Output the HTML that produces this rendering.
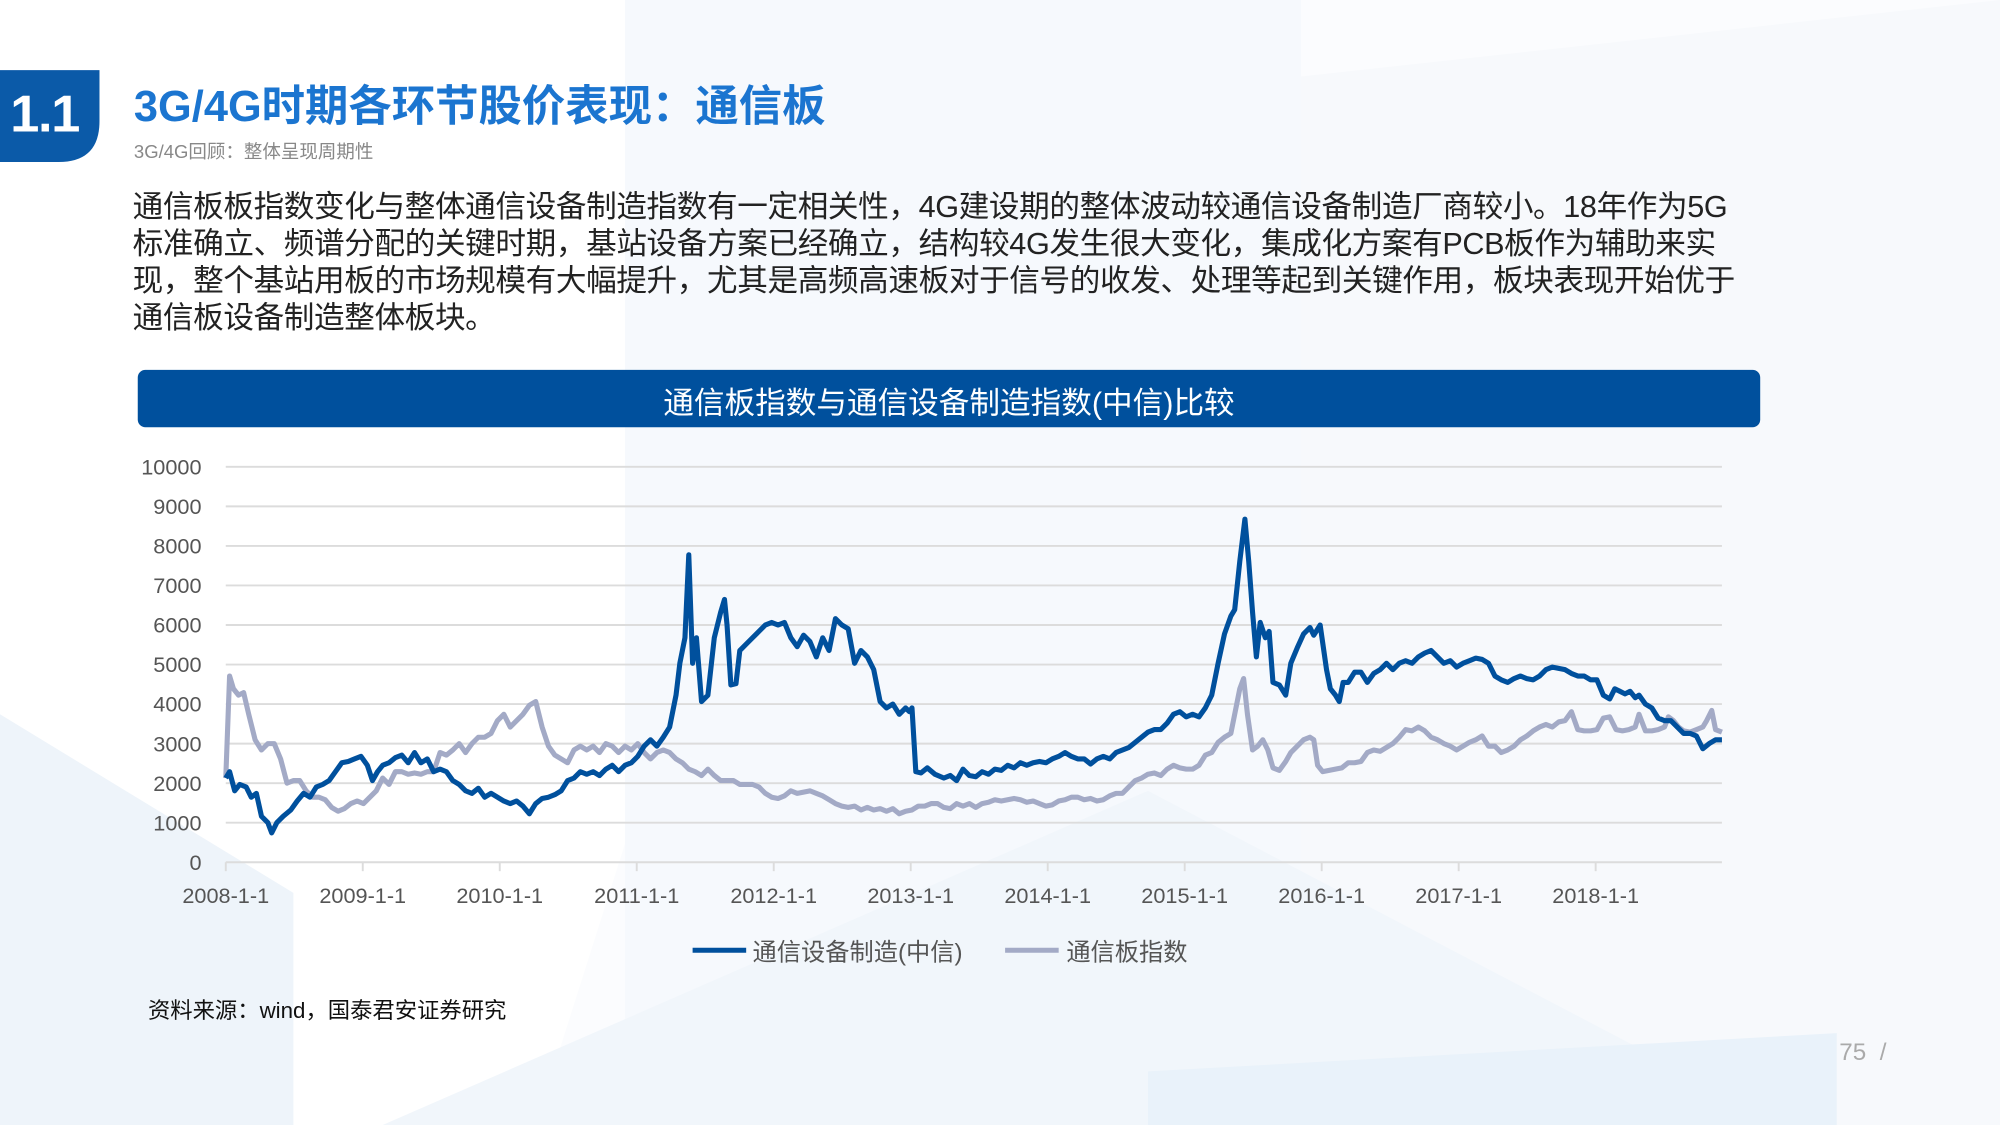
<!DOCTYPE html>
<html><head><meta charset="utf-8"><style>
html,body{margin:0;padding:0;background:#fff;overflow:hidden}
#wrap{width:2000px;height:1125px;position:relative;overflow:hidden;background:#fbfcfe}
#s{position:absolute;left:0;top:0;width:1568px;height:882px;transform:scale(1.27551);transform-origin:0 0;font-family:"Liberation Sans","Noto Sans CJK SC",sans-serif}
.t{position:absolute;white-space:nowrap}
</style></head><body><div id="wrap"><div id="s">
<svg width="1568" height="882" style="position:absolute;left:0;top:0">
<rect width="1568" height="882" fill="#fbfcfe"/>
<polygon points="0,0 700,0 420,882 0,882" fill="#ffffff"/>
<polygon points="490,0 1020,0 1020,882 490,882" fill="#f6f9fd"/>
<polygon points="1020,60 1568,0 1568,882 1020,882" fill="#f7f9fc"/>
<polygon points="0,560 230,700 230,882 0,882" fill="#eef4fa"/>
<polygon points="300,882 900,620 1400,882" fill="#f1f6fb"/>
<polygon points="900,840 1440,810 1440,882 900,882" fill="#e9f2fa"/>
<path d="M0,55 H78 V95 Q78,127 46,127 H0 Z" fill="#0b5aa8"/>
<rect x="108" y="290" width="1272" height="45" rx="6" fill="#00509d"/>
<g stroke="#dcdcdc" stroke-width="1.5">
<line x1="177" x2="1350" y1="366" y2="366"/><line x1="177" x2="1350" y1="397" y2="397"/><line x1="177" x2="1350" y1="428" y2="428"/><line x1="177" x2="1350" y1="459" y2="459"/><line x1="177" x2="1350" y1="490" y2="490"/><line x1="177" x2="1350" y1="521" y2="521"/><line x1="177" x2="1350" y1="552" y2="552"/><line x1="177" x2="1350" y1="583" y2="583"/><line x1="177" x2="1350" y1="614" y2="614"/><line x1="177" x2="1350" y1="645" y2="645"/><line x1="177" x2="1350" y1="676" y2="676"/>
<line x1="177" x2="177" y1="676" y2="683"/><line x1="284.4" x2="284.4" y1="676" y2="683"/><line x1="391.8" x2="391.8" y1="676" y2="683"/><line x1="499.2" x2="499.2" y1="676" y2="683"/><line x1="606.6" x2="606.6" y1="676" y2="683"/><line x1="714" x2="714" y1="676" y2="683"/><line x1="821.4" x2="821.4" y1="676" y2="683"/><line x1="928.8" x2="928.8" y1="676" y2="683"/><line x1="1036.2" x2="1036.2" y1="676" y2="683"/><line x1="1143.6" x2="1143.6" y1="676" y2="683"/><line x1="1251" x2="1251" y1="676" y2="683"/>
</g>
<g font-size="17" fill="#555" text-anchor="end" font-family="Liberation Sans,sans-serif">
<text x="158" y="372">10000</text><text x="158" y="403">9000</text><text x="158" y="434">8000</text><text x="158" y="465">7000</text><text x="158" y="496">6000</text><text x="158" y="527">5000</text><text x="158" y="558">4000</text><text x="158" y="589">3000</text><text x="158" y="620">2000</text><text x="158" y="651">1000</text><text x="158" y="682">0</text>
</g>
<g font-size="17" fill="#555" text-anchor="middle" font-family="Liberation Sans,sans-serif">
<text x="177" y="708">2008-1-1</text><text x="284.4" y="708">2009-1-1</text><text x="391.8" y="708">2010-1-1</text><text x="499.2" y="708">2011-1-1</text><text x="606.6" y="708">2012-1-1</text><text x="714" y="708">2013-1-1</text><text x="821.4" y="708">2014-1-1</text><text x="928.8" y="708">2015-1-1</text><text x="1036.2" y="708">2016-1-1</text><text x="1143.6" y="708">2017-1-1</text><text x="1251" y="708">2018-1-1</text>
</g>
<polyline fill="none" stroke="#a3aac6" stroke-width="4" stroke-linejoin="round" points="177,610 180,530 183,540 187,545 191,543 195,560 200,580 205,588 210,583 215,583 220,595 225,614 230,612 235,612 240,620 245,625 250,625 255,627 260,633 265,636 270,634 275,630 280,628 285,630 290,625 295,620 300,610 305,615 310,605 315,605 320,607 325,606 330,607 335,605 340,605 345,590 350,592 355,588 360,583 365,590 370,583 375,578 380,578 385,575 390,565 395,560 400,570 405,565 410,560 415,553 420,550 425,570 430,585 435,592 440,595 445,598 450,588 455,585 460,588 465,585 470,590 475,583 480,585 485,590 490,585 495,588 500,583 505,590 510,595 515,590 520,588 525,590 530,595 535,598 540,603 545,605 550,608 555,603 560,608 565,612 570,612 575,612 580,615 585,615 590,615 595,617 600,622 605,625 610,626 615,624 620,620 625,622 630,621 635,620 640,622 645,624 650,627 655,630 660,632 665,633 670,632 675,635 680,633 685,635 690,634 695,636 700,634 705,638 710,636 715,635 720,632 725,632 730,630 735,630 740,633 745,634 750,630 755,632 760,630 765,633 770,630 775,629 780,627 785,628 790,627 795,626 800,627 805,629 810,628 815,630 820,632 825,631 830,628 835,627 840,625 845,625 850,627 855,626 860,628 865,627 870,624 875,622 880,622 885,617 890,612 895,610 900,607 905,606 910,608 915,603 920,600 925,602 930,603 935,603 940,600 945,592 950,590 955,582 960,578 965,575 968,560 972,540 975,532 978,560 982,588 986,585 990,580 994,588 998,602 1003,604 1008,597 1012,590 1017,585 1022,580 1027,578 1030,580 1033,600 1037,605 1042,604 1047,603 1052,602 1057,598 1062,598 1067,597 1072,590 1077,588 1082,589 1087,586 1092,583 1097,578 1102,572 1107,573 1112,570 1117,573 1122,578 1127,580 1132,583 1137,585 1142,588 1147,585 1152,582 1157,580 1162,577 1167,585 1172,585 1177,590 1182,588 1187,585 1192,580 1197,577 1202,573 1207,570 1212,568 1217,570 1222,566 1227,565 1232,558 1237,572 1242,573 1247,573 1252,572 1257,563 1262,562 1267,572 1272,573 1277,572 1282,570 1285,560 1290,573 1295,573 1300,572 1305,570 1308,562 1312,565 1316,570 1320,573 1325,574 1330,572 1335,570 1338,565 1342,557 1345,572 1350,574"/>
<polyline fill="none" stroke="#00509d" stroke-width="4" stroke-linejoin="round" points="177,610 180,605 184,620 188,615 193,617 197,625 201,622 205,640 210,645 213,653 217,645 222,640 228,635 233,628 238,622 243,625 248,617 253,615 258,612 263,605 268,598 273,597 278,595 283,593 288,600 292,612 296,605 300,600 305,598 310,594 315,592 320,598 325,590 330,598 335,595 340,605 345,603 350,605 355,612 360,615 365,620 370,622 375,618 380,625 385,622 390,625 395,628 400,630 405,628 410,632 415,638 420,630 425,626 430,625 435,623 440,620 445,612 450,610 455,605 460,607 465,605 470,608 475,603 480,600 485,605 490,600 495,598 500,593 505,585 510,580 515,585 520,578 525,570 530,545 533,520 537,500 540,435 543,520 546,500 550,550 555,545 560,500 565,480 568,470 570,490 573,537 577,536 580,510 585,505 590,500 595,495 600,490 605,488 610,490 615,488 620,500 625,507 630,498 635,503 640,515 645,500 650,510 655,485 660,490 665,493 670,520 675,510 680,515 685,525 690,550 695,555 700,552 705,560 710,555 713,558 715,555 718,605 722,606 727,602 733,607 740,610 745,608 750,612 755,603 760,608 765,609 770,605 775,607 780,603 785,604 790,600 795,602 800,598 805,600 810,598 815,597 820,598 825,595 830,593 835,590 840,593 845,595 850,595 855,599 860,595 865,593 870,595 875,590 880,588 885,586 890,582 895,578 900,574 905,572 910,572 915,567 920,560 925,558 930,562 935,560 940,562 945,555 950,545 955,520 960,497 965,483 968,478 972,440 976,407 979,440 982,480 985,515 988,488 992,500 995,495 998,535 1003,537 1008,545 1012,520 1017,508 1022,497 1027,492 1030,498 1035,490 1040,525 1043,540 1047,545 1050,550 1053,535 1057,535 1062,527 1067,527 1072,535 1077,528 1082,525 1087,520 1092,525 1097,520 1102,518 1107,520 1112,515 1117,512 1122,510 1127,515 1132,520 1137,518 1142,523 1147,520 1152,518 1157,516 1162,517 1167,520 1172,530 1177,533 1182,535 1187,532 1192,530 1197,532 1202,533 1207,530 1212,525 1217,523 1222,524 1227,525 1232,528 1237,530 1242,530 1247,533 1252,533 1257,545 1262,548 1266,540 1270,542 1274,544 1278,542 1282,547 1285,545 1290,552 1295,555 1300,563 1305,565 1310,565 1315,570 1320,575 1325,575 1330,577 1335,587 1340,583 1345,580 1350,580"/>
<line x1="543" x2="585" y1="745" y2="745" stroke="#00509d" stroke-width="4"/>
<line x1="788" x2="830" y1="745" y2="745" stroke="#a3aac6" stroke-width="4"/>
</svg>
<div class="t" style="left:8px;top:66px;font-size:41px;font-weight:bold;color:#fff;letter-spacing:-1px">1.1</div>
<div class="t" style="left:105px;top:56px;font-size:34px;font-weight:bold;color:#1b75d0">3G/4G时期各环节股价表现：通信板</div>
<div class="t" style="left:105px;top:108px;font-size:14.5px;color:#888">3G/4G回顾：整体呈现周期性</div>
<div class="t" style="left:104px;top:148px;font-size:24px;line-height:29px;color:#222;letter-spacing:-0.3px">通信板板指数变化与整体通信设备制造指数有一定相关性，4G建设期的整体波动较通信设备制造厂商较小。18年作为5G<br>标准确立、频谱分配的关键时期，基站设备方案已经确立，结构较4G发生很大变化，集成化方案有PCB板作为辅助来实<br>现，整个基站用板的市场规模有大幅提升，尤其是高频高速板对于信号的收发、处理等起到关键作用，板块表现开始优于<br>通信板设备制造整体板块。</div>
<div class="t" style="left:108px;width:1272px;top:296px;text-align:center;font-size:24px;color:#fff">通信板指数与通信设备制造指数(中信)比较</div>
<div class="t" style="left:590px;top:732px;font-size:19px;color:#555">通信设备制造(中信)</div>
<div class="t" style="left:836px;top:732px;font-size:19px;color:#555">通信板指数</div>
<div class="t" style="left:116px;top:779px;font-size:17.5px;color:#111">资料来源：wind，国泰君安证券研究</div>
<div class="t" style="left:1442px;top:815px;font-size:19px;color:#aaa">75 &nbsp;/</div>
</div></div></body></html>
